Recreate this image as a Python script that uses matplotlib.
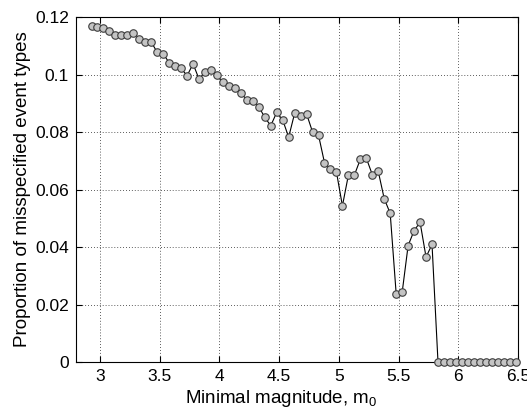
"""
Proportion of misspecified event types vs minimal magnitude
"""
import numpy as np
import matplotlib
matplotlib.use('Agg')
import matplotlib.pyplot as plt

plt.rcParams['font.family'] = ['Liberation Sans', 'DejaVu Sans']
plt.rcParams['mathtext.fontset'] = 'custom'
plt.rcParams['mathtext.rm'] = 'Liberation Sans'

# minimal magnitude m0 (grid)
m0 = [2.93, 2.98, 3.03, 3.08, 3.13, 3.18, 3.23, 3.28, 3.33, 3.38,
      3.43, 3.48, 3.53, 3.58, 3.63, 3.68, 3.73, 3.78, 3.83, 3.88,
      3.93, 3.98, 4.03, 4.08, 4.13, 4.18, 4.23, 4.28, 4.33, 4.38,
      4.43, 4.48, 4.53, 4.58, 4.63, 4.68, 4.73, 4.78, 4.83, 4.88,
      4.93, 4.98, 5.03, 5.08, 5.13, 5.18, 5.23, 5.28, 5.33, 5.38,
      5.43, 5.48, 5.53, 5.58, 5.63, 5.68, 5.73, 5.78, 5.83, 5.88,
      5.93, 5.98, 6.03, 6.08, 6.13, 6.18, 6.23, 6.28, 6.33, 6.38,
      6.43, 6.48]

# proportion of misspecified event types
prop = [0.1170, 0.1166, 0.1161, 0.1152, 0.1137, 0.1137, 0.1138, 0.1146, 0.1125, 0.1113,
        0.1113, 0.1077, 0.1072, 0.1041, 0.1030, 0.1021, 0.0996, 0.1037, 0.0984, 0.1009,
        0.1015, 0.0998, 0.0973, 0.0961, 0.0954, 0.0937, 0.0911, 0.0909, 0.0888, 0.0851,
        0.0822, 0.0868, 0.0842, 0.0782, 0.0865, 0.0856, 0.0863, 0.0800, 0.0789, 0.0693,
        0.0670, 0.0661, 0.0543, 0.0650, 0.0650, 0.0705, 0.0709, 0.0652, 0.0663, 0.0568,
        0.0517, 0.0237, 0.0242, 0.0405, 0.0457, 0.0486, 0.0365, 0.0409, 0.0, 0.0,
        0.0, 0.0, 0.0, 0.0, 0.0, 0.0, 0.0, 0.0, 0.0, 0.0,
        0.0, 0.0]

xticks = [3, 3.5, 4, 4.5, 5, 5.5, 6, 6.5]
yticks = [0, 0.02, 0.04, 0.06, 0.08, 0.1, 0.12]
ytick_labels = ['0', '0.02', '0.04', '0.06', '0.08', '0.1', '0.12']

fig = plt.figure(figsize=(5.27, 4.17), dpi=100)
ax = fig.add_axes([0.1442, 0.1319, 0.8388, 0.8273])

ax.plot(m0, prop, '-', color='black', linewidth=0.8,
        marker='o', markersize=5.4, markerfacecolor='#c4c4c4',
        markeredgecolor='#3c3c3c', markeredgewidth=0.8, clip_on=False, zorder=3)

ax.set_xlim(2.8, 6.5)
ax.set_ylim(0, 0.12)
ax.set_xticks(xticks)
ax.set_xticklabels([f'{t:g}' for t in xticks])
ax.set_yticks(yticks)
ax.set_yticklabels(ytick_labels)

ax.grid(True, color='black', linestyle=(0, (1, 2.5)), linewidth=0.6, alpha=0.85)
ax.tick_params(direction='in', top=True, right=True, length=4, width=0.8,
               labelsize=12.5, pad=5)
for s in ax.spines.values():
    s.set_linewidth(0.8)

ax.set_xlabel(r'Minimal magnitude, m$_\mathregular{0}$', fontsize=13.5)
ax.xaxis.set_label_coords(0.465, -0.075)
ax.set_ylabel('Proportion of misspecified event types', fontsize=13.5, labelpad=3)

fig.savefig('out.png', dpi=100)
